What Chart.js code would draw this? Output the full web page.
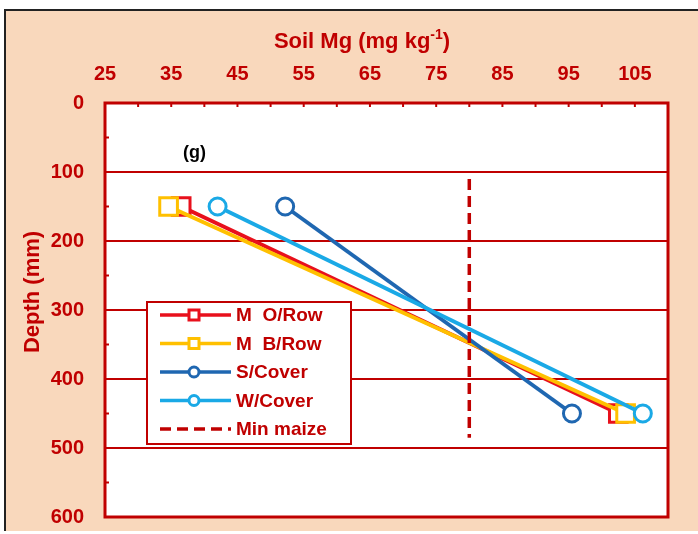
<!DOCTYPE html>
<html>
<head>
<meta charset="utf-8">
<script src="https://cdn.jsdelivr.net/npm/chart.js@4.4.0/dist/chart.umd.min.js"></script>
<style>
  body { margin: 0; background: #fff; }
  #wrap { width: 698px; height: 534px; }
</style>
</head>
<body>
<div id="wrap"><canvas id="myChart" width="698" height="534"></canvas></div>
<script>
// values (Soil Mg, mg/kg vs depth, mm)
let labels = ['M  O/Row', 'M  B/Row', 'S/Cover', 'W/Cover', 'Min maize'];
let depths = [150, 450];
let mgORow = [36.5, 102.5];
let mgBRow = [34.6, 103.6];
let mgSCover = [52.2, 95.5];
let mgWCover = [42, 106.2];
let minMaize = [80, 80];
let minMaizeDepth = [110, 485];
let xTicks = [25, 35, 45, 55, 65, 75, 85, 95, 105];
let yTicks = [0, 100, 200, 300, 400, 500, 600];

let dark = '#C00000';
let colors = ['#E8101C', '#FFC000', '#1F67B1', '#1AA9E6', '#C00000'];
let font = 'Liberation Sans, Arial, sans-serif';

function pts(xs, ys) {
    return xs.map(function(v, i) { return { x: v, y: ys[i] }; });
}

let frame = {
    id: 'frame',
    beforeDraw: function(chart) {
        let c = chart.ctx, a = chart.chartArea;
        c.save();
        c.fillStyle = '#fff';
        c.fillRect(0, 0, chart.width, chart.height);
        c.fillStyle = '#F9D8BC';
        c.fillRect(5, 10, chart.width - 5, 521);
        c.strokeStyle = '#222';
        c.lineWidth = 2;
        c.beginPath();
        c.moveTo(5, 531); c.lineTo(5, 10); c.lineTo(chart.width, 10);
        c.stroke();
        c.fillStyle = '#fff';
        c.fillRect(a.left, a.top, a.right - a.left, a.bottom - a.top);
        c.restore();
    },
    afterDraw: function(chart) {
        let c = chart.ctx, a = chart.chartArea;
        let xs = chart.scales.x, ys = chart.scales.y;
        c.save();
        // inward minor ticks
        c.strokeStyle = dark;
        c.lineWidth = 2;
        for (let v = 30; v < 110; v += 5) {
            let px = xs.getPixelForValue(v);
            c.beginPath(); c.moveTo(px, a.top); c.lineTo(px, a.top + 4); c.stroke();
        }
        for (let v = 50; v < 600; v += 100) {
            let py = ys.getPixelForValue(v);
            c.beginPath(); c.moveTo(a.left, py); c.lineTo(a.left + 4, py); c.stroke();
        }
        // plot border
        c.lineWidth = 3;
        c.strokeRect(a.left, a.top, a.right - a.left, a.bottom - a.top);

        // axis titles
        c.fillStyle = dark;
        c.font = 'bold 22px ' + font;
        c.textBaseline = 'alphabetic';
        let t1 = 'Soil Mg (mg kg', t2 = '-1', t3 = ')';
        let w1 = c.measureText(t1).width;
        c.font = 'bold 14px ' + font;
        let w2 = c.measureText(t2).width;
        c.font = 'bold 22px ' + font;
        let w3 = c.measureText(t3).width;
        let sx = 362 - (w1 + w2 + w3) / 2;
        c.textAlign = 'left';
        c.fillText(t1, sx, 48);
        c.font = 'bold 14px ' + font;
        c.fillText(t2, sx + w1, 39);
        c.font = 'bold 22px ' + font;
        c.fillText(t3, sx + w1 + w2, 48);

        c.save();
        c.translate(39, 292);
        c.rotate(-Math.PI / 2);
        c.textAlign = 'center';
        c.fillText('Depth (mm)', 0, 0);
        c.restore();

        c.fillStyle = '#000';
        c.font = 'bold 18px ' + font;
        c.textAlign = 'left';
        c.fillText('(g)', 183, 158);

        // legend box
        let lx = 147, ly = 302, lw = 204, lh = 142;
        c.fillStyle = '#fff';
        c.fillRect(lx, ly, lw, lh);
        c.strokeStyle = dark;
        c.lineWidth = 2;
        c.strokeRect(lx, ly, lw, lh);
        chart.data.datasets.forEach(function(ds, i) {
            let yy = 315 + i * 28.5;
            c.strokeStyle = ds.borderColor;
            c.lineWidth = 3.5;
            c.setLineDash(ds.borderDash || []);
            c.beginPath(); c.moveTo(160, yy); c.lineTo(231, yy); c.stroke();
            c.setLineDash([]);
            if (ds.pointRadius > 0) {
                c.fillStyle = '#fff';
                c.lineWidth = 3;
                c.beginPath();
                if (ds.pointStyle === 'rect') c.rect(189, yy - 5, 10, 10);
                else c.arc(194, yy, 5, 0, Math.PI * 2);
                c.fill(); c.stroke();
            }
            c.fillStyle = dark;
            c.font = 'bold 19px ' + font;
            c.textBaseline = 'middle';
            c.fillText(ds.label, 236, yy + 1);
        });
        c.restore();
    }
};

let ctx = document.getElementById('myChart').getContext('2d');

function series(i, data, style, r) {
    return {
        label: labels[i],
        data: data,
        borderColor: colors[i],
        backgroundColor: '#fff',
        borderWidth: 4,
        pointStyle: style,
        pointRadius: r,
        pointBorderWidth: 3,
        pointBackgroundColor: '#fff',
        pointBorderColor: colors[i],
        order: 5 - i
    };
}

let chart = new Chart(ctx, {
    type: 'scatter',
    data: {
        datasets: [
            series(0, pts(mgORow, depths), 'rect', 12.5),
            series(1, pts(mgBRow, depths), 'rect', 12.5),
            series(2, pts(mgSCover, depths), 'circle', 8.5),
            series(3, pts(mgWCover, depths), 'circle', 8.5),
            {
                label: labels[4],
                data: pts(minMaize, minMaizeDepth),
                borderColor: colors[4],
                borderWidth: 3.5,
                borderDash: [11, 6],
                pointRadius: 0,
                order: 0
            }
        ]
    },
    options: {
        responsive: false,
        animation: false,
        showLine: true,
        layout: { padding: { left: 0, right: 30, top: 0, bottom: 17 } },
        plugins: { legend: { display: false }, tooltip: { enabled: false } },
        scales: {
            x: {
                type: 'linear',
                position: 'top',
                min: 25,
                max: 110,
                afterBuildTicks: function(s) { s.ticks = xTicks.map(function(v) { return { value: v }; }); },
                afterFit: function(s) { s.height = 103; s.paddingLeft = 0; s.paddingRight = 0; },
                grid: { display: false, drawTicks: false },
                border: { display: false },
                ticks: {
                    color: dark,
                    padding: 17,
                    maxRotation: 0,
                    font: { family: font, size: 20, weight: 'bold' }
                }
            },
            y: {
                type: 'linear',
                reverse: true,
                min: 0,
                max: 600,
                afterBuildTicks: function(s) { s.ticks = yTicks.map(function(v) { return { value: v }; }); },
                afterFit: function(s) { s.width = 105; s.paddingTop = 0; s.paddingBottom = 0; },
                grid: { color: dark, lineWidth: 2, drawTicks: false },
                border: { display: false },
                ticks: {
                    color: dark,
                    padding: 21,
                    font: { family: font, size: 20, weight: 'bold' }
                }
            }
        }
    },
    plugins: [frame]
});
</script>
</body>
</html>
